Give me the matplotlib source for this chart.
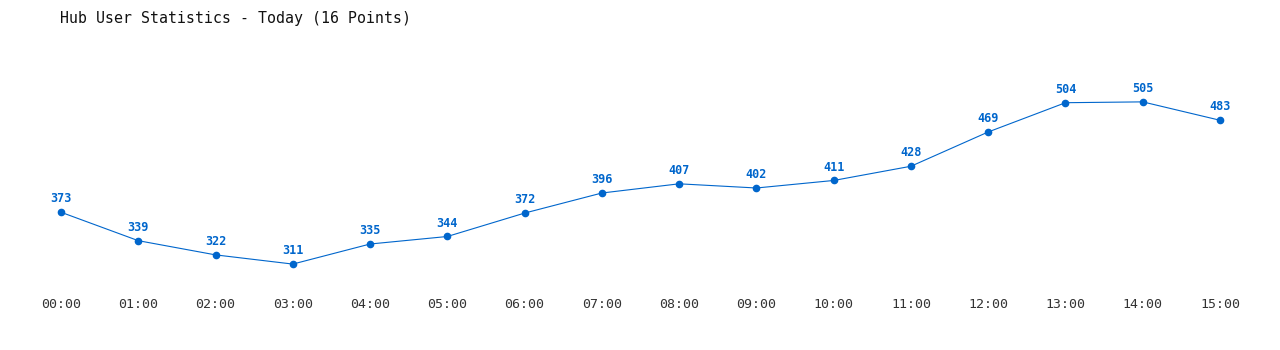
import matplotlib.pyplot as plt

hours = ['00:00', '01:00', '02:00', '03:00', '04:00', '05:00', '06:00', '07:00',
         '08:00', '09:00', '10:00', '11:00', '12:00', '13:00', '14:00', '15:00']
users = [373, 339, 322, 311, 335, 344, 372, 396, 407, 402, 411, 428, 469, 504, 505, 483]

blue = '#0066cc'
W, H = 1280, 350

fig = plt.figure(figsize=(W / 100, H / 100), dpi=100)
ax = fig.add_axes([61 / W, (H - 290) / H, (1220 - 61) / W, 250 / H])

x = list(range(len(users)))
ax.plot(x, users, color=blue, lw=0.8, marker='o', ms=4.5, clip_on=False)
for xi, v in zip(x, users):
    ax.annotate(str(v), (xi, v), xytext=(0, 5), textcoords='offset points',
                ha='center', va='bottom', color=blue, fontsize=8.5,
                fontweight='bold', family='DejaVu Sans Mono')

ax.set_xlim(0, 15)
ax.set_ylim(280, 579)
ax.set_xticks(x)
ax.set_xticklabels(hours, family='DejaVu Sans Mono', fontsize=9.5, color='#333333')
ax.tick_params(axis='x', length=0, pad=6)
ax.set_yticks([])
for s in ax.spines.values():
    s.set_visible(False)

fig.text(60 / W, 1 - 18 / H, 'Hub User Statistics - Today (16 Points)',
         family='DejaVu Sans Mono', fontsize=10.7, color='#111111', va='center', ha='left')

fig.savefig('out.png', dpi=100)
